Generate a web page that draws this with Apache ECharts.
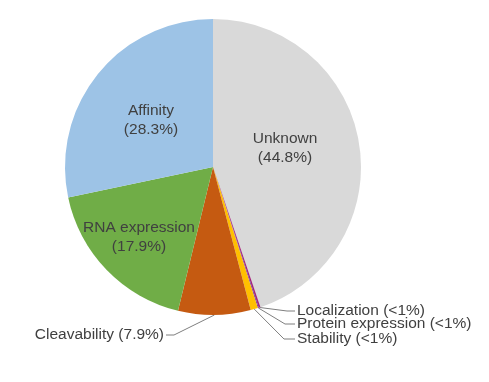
<!DOCTYPE html>
<html><head><meta charset="utf-8">
<script src="https://cdn.jsdelivr.net/npm/echarts@6/dist/echarts.min.js"></script>
<style>html,body{margin:0;padding:0;background:#fff}#c{width:489px;height:382px}</style>
</head><body><div id="c"></div>
<script>
const categories = ['Unknown','Localization','Protein expression','Stability','Cleavability','RNA expression','Affinity'];
const values = [44.8, 0.2, 0.1, 0.8, 7.9, 17.9, 28.3];
const pctLabels = ['44.8%','<1%','<1%','<1%','7.9%','17.9%','28.3%'];
const colors = ['#d9d9d9','#a3287a','#7030a0','#ffc000','#c55a11','#70ad47','#9dc3e6'];
const insideSet = [0,5,6];

// label placement (layout only)
const labelPos = {
  0: {x:285, y:148, align:'center'},
  5: {x:139, y:237, align:'center'},
  6: {x:151, y:120, align:'center'},
  1: {x:297, y:311, align:'left', bend:[287,311]},
  2: {x:297, y:324, align:'left', bend:[285,324]},
  3: {x:297, y:339, align:'left', bend:[284,339]},
  4: {x:164, y:335, align:'right', bend:[174,335]}
};

const data = categories.map((n,i)=>{
  const inside = insideSet.includes(i);
  return {
    name:n, value:values[i],
    itemStyle:{color:colors[i]},
    label:{show:true, position: inside?'inside':'outside',
      formatter: inside ? n+'\n('+pctLabels[i]+')' : n+' ('+pctLabels[i]+')'},
    labelLine:{show:!inside}
  };
});

const chart = echarts.init(document.getElementById('c'), null, {renderer:'canvas'});
chart.setOption({
  animation:false,
  series:[{
    type:'pie',
    center:[213,167],
    radius:148,
    startAngle:90,
    clockwise:true,
    avoidLabelOverlap:false,
    itemStyle:{borderWidth:0},
    label:{fontFamily:'Liberation Sans, Arial, sans-serif', fontSize:15.5, color:'#404040', lineHeight:19},
    labelLine:{lineStyle:{color:'#7f7f7f', width:1}, length:10, length2:10},
    labelLayout:function(p){
      const L = labelPos[p.dataIndex];
      const r = {x:L.x, y:L.y, align:L.align, verticalAlign:'middle', hideOverlap:false};
      if (L.bend && p.labelLinePoints) {
        const s = p.labelLinePoints[0];
        r.labelLinePoints = [s, L.bend, [L.align==='left'? L.x-2 : L.x+2, L.y]];
      }
      return r;
    },
    data:data
  }]
});
</script></body></html>
